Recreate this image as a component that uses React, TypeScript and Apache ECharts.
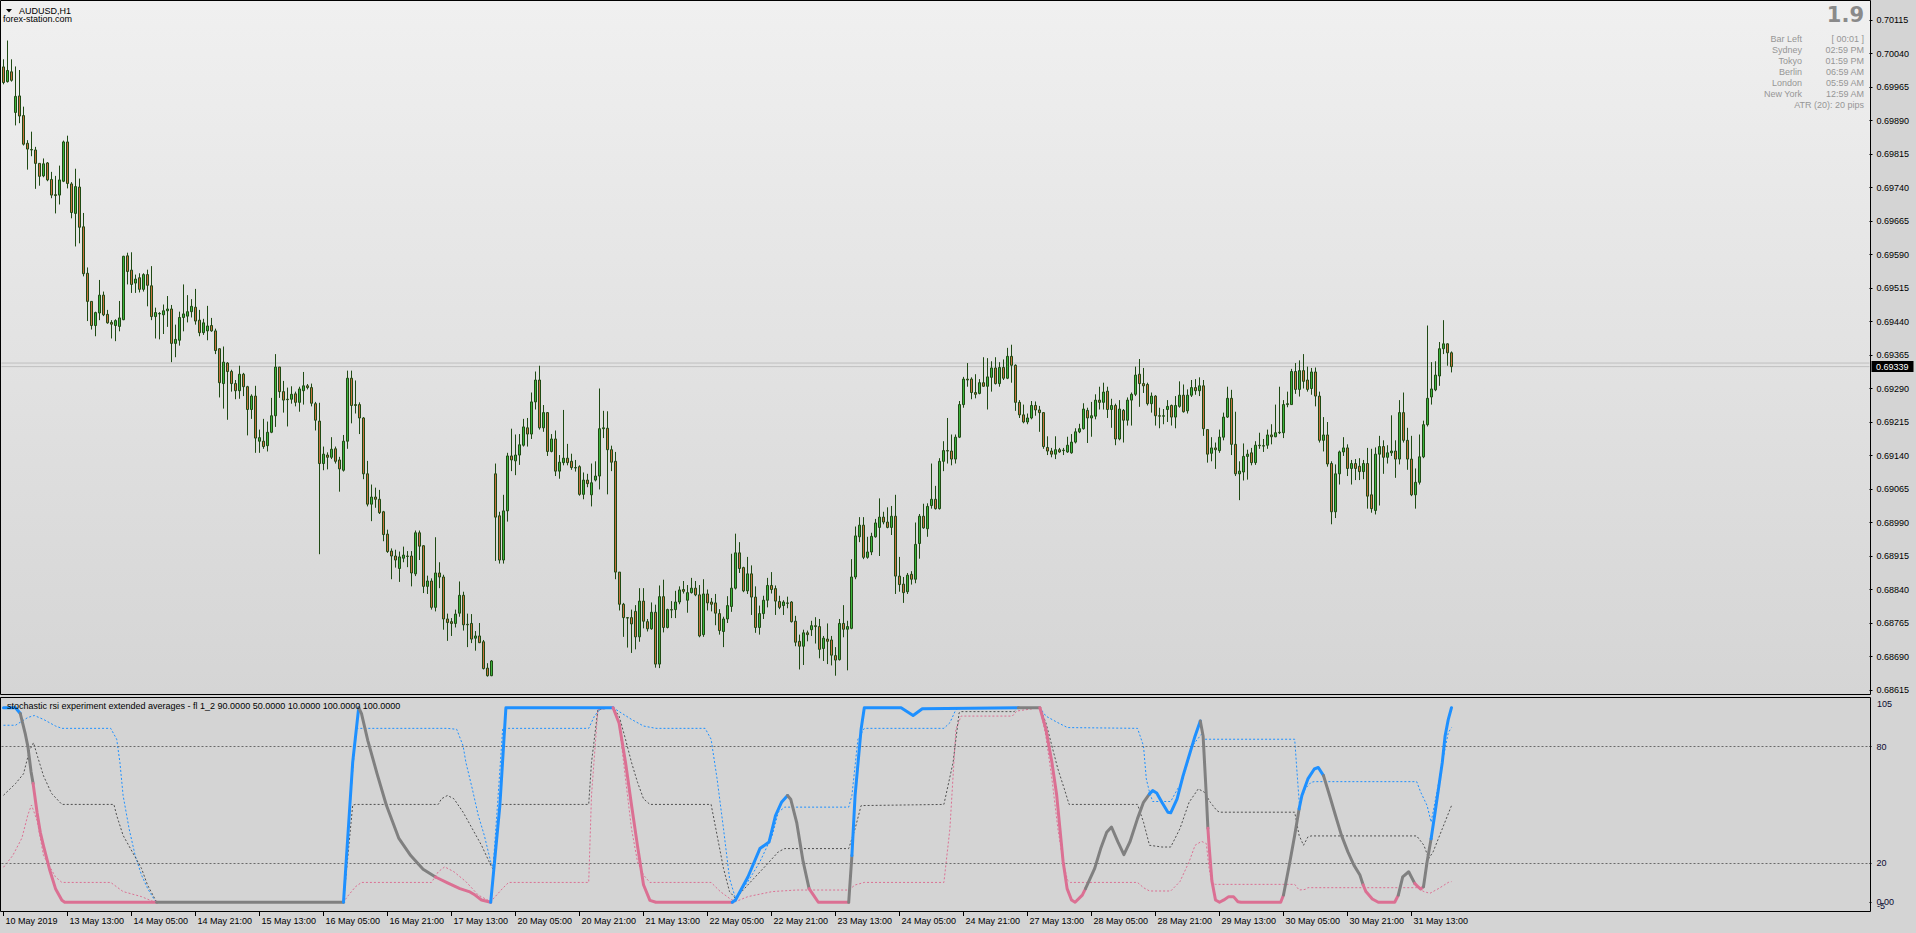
import React, { useEffect, useRef } from 'react';
import * as echarts from 'echarts';

// AUDUSD H1 prices, in points (1e-5)
const opens = [
70010,69977,69999,69908,69945,69901,69839,69825,69824,69794,
69766,69795,69758,69724,69723,69754,69842,69748,69682,69741,
69652,69548,69485,69431,69459,69499,69456,69438,69431,69429,
69444,69587,69555,69526,69538,69512,69545,69520,69451,69457,
69455,69464,69468,69391,69398,69449,69452,69462,69472,69443,
69415,69419,69431,69419,69379,69301,69347,69328,69301,69285,
69322,69294,69243,69273,69172,69172,69162,69192,69229,69338,
69283,69266,69266,69278,69259,69285,69296,69292,69256,69217,
69122,69141,69136,69155,69130,69107,69172,69313,69254,69254,
69224,69099,69031,69047,69042,69014,68964,68926,68915,68887,
68910,68915,68915,68875,68967,68938,68847,68859,68800,68877,
68868,68774,68768,68764,68787,68827,68762,68764,68731,68736,
68723,68664,68647,69099,69005,68906,69016,69139,69128,69141,
69163,69202,69188,69260,69309,69202,69236,69149,69177,69105,
69124,69134,69127,69113,69115,69053,69085,69052,69085,69094,
69200,69201,69153,69127,68879,68807,68777,68777,68791,68734,
68814,68768,68752,68789,68673,68824,68755,68795,68795,68812,
68840,68816,68833,68843,68828,68739,68830,68812,68810,68786,
68746,68774,68802,68843,68922,68889,68837,68875,68823,68755,
68786,68816,68849,68842,68813,68804,68810,68812,68769,68724,
68713,68743,68750,68759,68757,68708,68729,68727,68692,68683,
68764,68751,68753,68868,68958,68984,68912,68924,68958,68979,
69002,68991,68979,69004,68870,68852,68835,68874,68863,68943,
69004,68976,69028,69042,69021,69127,69151,69150,69132,69181,
69254,69311,69311,69281,69279,69303,69295,69315,69336,69301,
69337,69313,69362,69342,69259,69231,69215,69224,69252,69242,
69236,69158,69150,69143,69153,69152,69148,69146,69170,69193,
69200,69241,69224,69228,69264,69259,69284,69243,69252,69177,
69241,69219,69264,69277,69322,69301,69299,69256,69273,69229,
69228,69243,69252,69226,69250,69275,69240,69275,69292,69285,
69296,69198,69145,69157,69151,69181,69226,69268,69165,69099,
69103,69138,69146,69124,69163,69161,69163,69186,69182,69191,
69191,69254,69254,69328,69288,69330,69309,69290,69327,69273,
69174,69186,69122,69014,69099,69148,69157,69111,69122,69116,
69104,69122,69052,69017,69143,69160,69136,69146,69150,69132,
69236,69174,69132,69052,69080,69137,69209,69271,69287,69318,
69379,69390,69370];

const highs = [
70027,70069,70027,70011,70003,69921,69846,69865,69831,69794,
69805,69797,69775,69766,69789,69845,69856,69752,69782,69760,
69683,69561,69485,69462,69533,69507,69466,69443,69445,69486,
69587,69594,69595,69545,69548,69548,69556,69564,69471,69461,
69478,69497,69477,69433,69462,69523,69499,69490,69513,69466,
69446,69475,69448,69424,69380,69384,69349,69332,69309,69341,
69325,69296,69277,69296,69198,69222,69216,69269,69367,69338,
69307,69292,69295,69283,69294,69327,69300,69301,69260,69258,
69160,69147,69181,69160,69137,69186,69330,69330,69308,69259,
69226,69128,69075,69068,69063,69016,68974,68932,68929,68925,
68936,68926,68926,68972,68972,68939,68871,68865,68957,68901,
68873,68786,68776,68795,68858,68835,68786,68785,68747,68765,
68727,68675,68682,69122,69014,69052,69146,69200,69187,69188,
69222,69224,69281,69328,69341,69253,69237,69188,69196,69141,
69242,69166,69144,69130,69118,69102,69099,69122,69127,69290,
69240,69239,69162,69148,68879,68810,68778,68795,68805,68843,
68843,68774,68811,68806,68849,68862,68797,68814,68837,68847,
68859,68850,68866,68859,68850,68863,68840,68821,68830,68796,
68779,68825,68920,68965,68946,68891,68913,68894,68847,68804,
68826,68866,68879,68849,68826,68816,68824,68814,68781,68739,
68750,68748,68770,68778,68774,68736,68764,68736,68711,68774,
68805,68770,68908,68981,69002,69002,68958,68967,68998,69044,
69014,69024,69027,69052,68913,68868,68877,68881,68990,69009,
69032,69033,69122,69072,69134,69172,69224,69187,69187,69262,
69316,69347,69315,69322,69311,69360,69358,69351,69360,69349,
69355,69381,69388,69344,69264,69254,69234,69262,69261,69251,
69237,69183,69157,69183,69157,69157,69182,69188,69201,69211,
69257,69247,69260,69277,69294,69303,69294,69267,69256,69264,
69244,69270,69281,69339,69356,69336,69303,69281,69275,69247,
69244,69264,69254,69273,69306,69299,69288,69309,69311,69315,
69309,69198,69181,69169,69198,69236,69294,69287,69238,69127,
69167,69153,69157,69172,69191,69177,69198,69210,69254,69294,
69264,69283,69334,69347,69353,69367,69339,69336,69337,69283,
69226,69215,69127,69120,69151,69181,69165,69130,69132,69134,
69130,69157,69155,69158,69184,69174,69163,69230,69174,69264,
69281,69202,69184,69111,69187,69218,69431,69349,69351,69394,
69443,69391,69373];

const lows = [
69971,69975,69977,69879,69884,69834,69780,69810,69737,69744,
69763,69754,69716,69682,69702,69752,69738,69671,69608,69615,
69541,69441,69422,69407,69443,69452,69435,69402,69396,69418,
69443,69523,69504,69504,69505,69507,69474,69443,69402,69400,
69412,69428,69349,69360,69386,69418,69438,69449,69433,69407,
69410,69398,69417,69367,69270,69245,69220,69283,69266,69267,
69273,69185,69222,69146,69146,69155,69149,69190,69204,69269,
69236,69205,69256,69250,69238,69254,69288,69250,69196,68919,
69107,69109,69132,69122,69059,69104,69155,69212,69234,69188,
69087,69026,68993,69023,69009,68948,68922,68863,68889,68857,
68901,68890,68847,68870,68906,68832,68830,68795,68791,68843,
68750,68725,68736,68755,68779,68748,68711,68720,68703,68720,
68661,68645,68646,68904,68898,68898,68992,69105,69096,69119,
69160,69160,69177,69243,69198,69193,69139,69147,69094,69088,
69118,69118,69108,69104,69050,69042,69069,69026,69082,69064,
69179,69053,69105,68863,68793,68734,68710,68698,68706,68723,
68753,68746,68750,68665,68664,68744,68753,68776,68776,68807,
68831,68788,68831,68825,68733,68734,68793,68791,68760,68739,
68711,68765,68790,68840,68877,68834,68830,68783,68743,68739,
68774,68800,68831,68783,68796,68783,68798,68766,68713,68661,
68671,68724,68736,68719,68686,68680,68673,68670,68647,68681,
68733,68659,68751,68863,68946,68908,68909,68917,68956,68915,
68986,68977,68962,68830,68835,68810,68830,68851,68854,68909,
68976,68958,69021,69019,69019,69105,69122,69118,69122,69179,
69247,69294,69266,69268,69277,69294,69243,69283,69299,69294,
69309,69311,69303,69240,69224,69212,69210,69221,69229,69193,
69155,69141,69136,69132,69146,69141,69146,69144,69167,69190,
69198,69168,69182,69221,69243,69243,69224,69202,69163,69174,
69169,69207,69207,69273,69249,69280,69252,69236,69207,69201,
69210,69215,69207,69201,69247,69236,69234,69271,69276,69273,
69184,69124,69127,69110,69146,69174,69224,69141,69094,69040,
69084,69086,69118,69119,69155,69148,69155,69165,69181,69188,
69179,69248,69254,69278,69272,69290,69283,69276,69250,69169,
69149,69115,68986,69000,69075,69139,69094,69075,69085,69085,
69087,69021,69012,69008,69028,69099,69122,69139,69090,69120,
69169,69108,69049,69021,69075,69134,69205,69254,69284,69296,
69367,69341,69326];

const closes = [
69975,70002,69980,69944,69900,69837,69826,69824,69794,69765,
69793,69757,69723,69722,69757,69842,69749,69684,69742,69651,
69547,69485,69431,69460,69499,69455,69437,69434,69442,69448,
69586,69552,69523,69535,69512,69545,69521,69451,69460,69458,
69464,69468,69391,69400,69449,69457,69462,69474,69441,69415,
69437,69430,69419,69375,69303,69349,69328,69301,69285,69322,
69294,69243,69273,69179,69180,69160,69192,69229,69338,69283,
69264,69265,69277,69259,69289,69296,69292,69257,69219,69122,
69143,69136,69154,69127,69110,69172,69313,69252,69252,69224,
69099,69031,69047,69042,69012,68963,68925,68915,68906,68913,
68917,68914,68877,68967,68937,68847,68859,68800,68877,68868,
68774,68766,68764,68785,68827,68761,68761,68729,68736,68721,
68663,68647,68680,69002,68906,69016,69139,69130,69141,69164,
69204,69188,69260,69309,69202,69236,69149,69177,69105,69125,
69134,69124,69113,69112,69053,69085,69077,69079,69094,69200,
69202,69153,69125,68879,68807,68777,68776,68763,68734,68814,
68769,68752,68789,68673,68824,68755,68795,68794,68812,68839,
68836,68833,68843,68828,68736,68830,68810,68807,68787,68748,
68774,68804,68843,68922,68887,68837,68875,68823,68755,68786,
68816,68849,68840,68814,68800,68812,68809,68768,68722,68713,
68743,68739,68759,68757,68706,68731,68724,68693,68682,68764,
68751,68757,68868,68960,68984,68912,68924,68959,68989,69002,
68991,68979,69004,68870,68851,68833,68872,68863,68941,69004,
68978,69026,69042,69021,69127,69151,69150,69132,69181,69254,
69311,69309,69281,69277,69303,69295,69316,69336,69301,69337,
69313,69362,69342,69259,69231,69215,69224,69252,69242,69236,
69160,69150,69143,69153,69148,69151,69163,69170,69193,69200,
69244,69224,69229,69264,69259,69282,69243,69252,69177,69244,
69219,69264,69277,69320,69301,69296,69256,69273,69229,69228,
69229,69250,69226,69252,69275,69238,69275,69292,69285,69296,
69200,69143,69157,69153,69181,69226,69268,69165,69099,69105,
69138,69143,69124,69163,69162,69162,69186,69182,69191,69192,
69254,69256,69328,69288,69330,69306,69288,69327,69273,69174,
69186,69121,69014,69099,69148,69157,69111,69122,69111,69104,
69122,69049,69021,69143,69160,69136,69146,69150,69132,69236,
69174,69132,69052,69080,69137,69209,69268,69289,69320,69379,
69390,69370,69339];

// x-axis time labels, one every 16 bars from the first bar
const timeLabels = [
  '10 May 2019', '13 May 13:00', '14 May 05:00', '14 May 21:00', '15 May 13:00', '16 May 05:00',
  '16 May 21:00', '17 May 13:00', '20 May 05:00', '20 May 21:00', '21 May 13:00', '22 May 05:00',
  '22 May 21:00', '23 May 13:00', '24 May 05:00', '24 May 21:00', '27 May 13:00', '28 May 05:00',
  '28 May 21:00', '29 May 13:00', '30 May 05:00', '30 May 21:00', '31 May 13:00',
];
const LABEL_EVERY = 16;

const priceMin = 0.68615;
const priceMax = 0.70115;
const priceStep = 0.00075;
const bidPrice = 0.69339;
const askPrice = 0.69347;

const subMin = -5;
const subMax = 105;
const subTicks = [0, 20, 80];
const subLevels = [80, 20];

const symbolTitle = 'AUDUSD,H1';
const siteText = 'forex-station.com';
const indicatorTitle = 'stochastic rsi experiment extended averages - fl 1_2 90.0000 50.0000 10.0000 100.0000 100.0000';
const spreadText = '1.9';
const infoRows = [
  ['Bar Left', '[ 00:01 ]'],
  ['Sydney', '02:59 PM'],
  ['Tokyo', '01:59 PM'],
  ['Berlin', '06:59 AM'],
  ['London', '05:59 AM'],
  ['New York', '12:59 AM'],
];
const atrText = 'ATR (20): 20 pips';

// Indicator: floating levels (bar index, value)
const upperLevel = [
[0,91],[3,91],[6.1,95],[7.7,96],[10,94],[13,90.6],[14.6,89.4],[26.8,89.4],[28.3,83.8],[29.1,71.9],[29.9,54.9],[31.4,37.8],[32.9,24.2],[34.5,14],[36,7.2],[37.5,2],[38.3,0],[85,0],[87,60],[88.2,89.4],[111,89.4],[113.3,88.9],[114.9,80.4],[115.6,71.9],[117.2,58.3],[118.7,44.6],[120.2,34.4],[121.8,20.8],[122.4,18],[123.5,50],[124.8,89.4],[146.3,89.4],[147.8,96],[149.3,99.5],[152.4,100],[157,94],[160,90.6],[163.1,89.4],[175.4,89.4],[176.9,83.8],[178.4,63.4],[180,37.8],[181.5,12.3],[183,2],[186.1,10.6],[189.1,20.8],[192.2,34.4],[193.7,46.3],[195.3,48.9],[211.3,48.9],[212.1,54.9],[213.6,83.8],[215.2,89.4],[235.1,89.4],[236.6,92.3],[238.1,99.1],[239.4,100],[259.1,100],[260.6,95.7],[263.6,92.3],[266,89.8],[283.5,89.4],[285,80.4],[285.7,63.4],[286.5,56.6],[287.3,51.8],[291.8,51.8],[294.9,63.4],[297.2,80.4],[299.5,86.4],[300.2,83.8],[322.8,83.8],[323.5,63.4],[324,49.7],[325.4,58.3],[326.9,61.7],[327.7,62],[353.3,62],[354.3,56.6],[355.9,49.7],[356.9,41.2],[358.2,54.9],[359.7,71.9],[361.2,87.2],[362,89.8]];

const middleLevel = [
[0,55],[3,61],[5,66],[6.5,78],[7.5,82],[8.5,75],[10,65],[12,56],[14.6,50.3],[27.6,50.3],[28.3,44.6],[29.9,34.4],[32.2,25.9],[34.5,17.4],[36,8.9],[38.3,0],[85,0],[87.3,50],[88,50.3],[108.7,50.3],[109.5,53.2],[111,54.9],[112.6,53.2],[114.9,46.3],[117.2,37.8],[119.5,29.3],[121.8,19.1],[122.4,17],[124.1,49.7],[124.5,50.3],[146.3,50.3],[147,71.9],[148.6,99.1],[152.4,100],[153.9,95.7],[155.5,83.8],[157,71.9],[158.5,61.7],[160,53.2],[161.6,50.3],[176.9,50.3],[178.4,34.4],[180,17.4],[181.5,5.5],[183,2],[187.6,12.3],[190.7,19.1],[193.7,25.9],[195.3,27.6],[211.3,27.6],[212.9,37.8],[214.4,49.7],[235.1,50.3],[237.4,71.9],[238.9,97.4],[239.3,98],[252.7,98],[253.3,99.7],[259.1,100],[260.6,92.3],[262.1,80.4],[263.6,68.5],[265.2,58.3],[266.4,50.3],[283.5,50.3],[285,41.2],[286.5,29.3],[289.6,28.4],[291.8,28.4],[294.1,37.8],[296.4,51.4],[298.7,58.3],[300.2,56.6],[301.7,51.4],[303.3,47.2],[304,46.3],[322.8,46.3],[323.9,34.4],[325,29.3],[326.1,33.6],[326.9,34.1],[353.3,34.1],[355.1,29.3],[356.3,22.5],[357.4,25.9],[359.7,37.8],[362,49.7]];

const lowerLevel = [
[0,18],[2.3,24],[4.6,33],[6.1,45],[7,50],[8.4,42],[10,24],[13,13],[14.6,10.2],[26.8,10.2],[29.9,5.5],[34.5,2.9],[37.5,0.3],[38.3,0],[85,0],[86,3],[88,8],[89.5,10.2],[107,10.2],[108.7,15.7],[110.3,18.2],[112.6,15.7],[115.6,10.6],[118.7,3.7],[121.8,0.3],[124.8,7.2],[126.3,10.2],[146.3,10.2],[147,54.9],[148.6,99.1],[152.4,100],[153.9,92.3],[155.5,63.4],[157,37.8],[158.5,20.8],[160,14],[161.6,10.2],[176.9,10.2],[179.2,5.5],[181.5,2],[183,0.3],[186.1,2.9],[192.2,5.5],[198.3,6.3],[211.3,6.3],[212.9,8.9],[215.2,10.2],[235.1,10.2],[236.6,37.8],[238.1,88.9],[239.4,95.7],[252.2,95.7],[253.3,98.3],[259.1,100],[260.6,85.5],[262.1,63.4],[263.6,37.8],[264.9,20.8],[266,11.4],[266.7,10.2],[283.5,10.2],[285,7.5],[286.5,5.8],[291.8,5.8],[294.1,10.6],[296.4,20.8],[297.9,29.3],[299.5,31.3],[300.7,30.2],[301.4,17.4],[302.1,9.7],[303,9.2],[322.8,9.2],[323.9,6.3],[325.4,6.6],[326.1,7.5],[353.3,7.5],[355.1,5.5],[356.6,4.6],[358.9,7.2],[361.2,10.2],[362,10.6]];

// Main stochastic RSI line, split into runs by state (up = above upper level, down = below lower level)
const stochRuns = [
  { state: 'up', pts: [[0,100],[3,100],[4.2,97]] },
  { state: 'mid', pts: [[4.2,97],[5.4,87],[6.1,80],[6.9,67],[7.4,61]] },
  { state: 'down', pts: [[7.4,61],[8.4,46],[9.2,36],[10,29],[11.5,17],[13,7],[14.6,1],[15.3,0],[38.3,0]] },
  { state: 'mid', pts: [[38.3,0],[85,0]] },
  { state: 'up', pts: [[85,0],[87.3,72],[88.8,100]] },
  { state: 'mid', pts: [[88.8,100],[89.5,97],[91.1,83],[93.4,66],[95.7,50],[98.8,33],[101.8,24],[104.9,17],[108,13]] },
  { state: 'down', pts: [[108,13],[111,10],[114.1,7],[116.4,5.5],[117.9,3.7],[119.5,1.2],[121.8,0]] },
  { state: 'up', pts: [[121.8,0],[124.1,50],[125.6,100],[152.4,100]] },
  { state: 'down', pts: [[152.4,100],[153.9,92],[155.5,72],[157,50],[158.5,29],[160,9],[161.6,1],[163.1,0],[182.2,0]] },
  { state: 'up', pts: [[182.2,0],[183,1.2],[186.1,13],[189.1,27.6],[191.4,31],[193,44.6],[194.5,51.4],[196,54.9]] },
  { state: 'mid', pts: [[196,54.9],[196.8,53],[198.3,41],[199.9,21],[201.4,7]] },
  { state: 'down', pts: [[201.4,7],[202.5,3.7],[203.7,0],[211.3,0]] },
  { state: 'mid', pts: [[211.3,0],[212.1,24]] },
  { state: 'up', pts: [[212.1,24],[212.9,55],[214.4,89],[215.2,100],[224.4,100],[227.4,96],[229.7,99.5],[253.7,100]] },
  { state: 'mid', pts: [[253.7,100],[259.1,100]] },
  { state: 'down', pts: [[259.1,100],[260.6,89],[262.1,72],[263.3,55],[264.1,38],[264.9,21],[265.9,7],[267,1.2],[267.9,0],[269.7,3.7],[270.5,7]] },
  { state: 'mid', pts: [[270.5,7],[271.3,10.6],[272.8,17.4],[274.3,27.6],[275.8,36],[277,38.7],[278.6,31],[280.1,24.5],[281.6,31],[283.5,43],[285,51.4],[286.5,55.7]] },
  { state: 'up', pts: [[286.5,55.7],[287.3,57.4],[288.3,56.2],[289.6,51.4],[291.1,46.3],[291.8,46],[293.4,53.2],[294.9,65.1],[296.4,75.3],[297.9,85.5],[299.2,93.2]] },
  { state: 'mid', pts: [[299.2,93.2],[299.9,85.5],[300.7,55],[301.1,38]] },
  { state: 'down', pts: [[301.1,38],[301.4,29],[302.1,11],[303,1.2],[304,0],[305.1,1.2],[306.3,2.9],[307.5,2.9],[308.6,0.3],[309.4,0],[319.3,0],[320,3.7]] },
  { state: 'mid', pts: [[320,3.7],[321.6,20.8],[322.8,34.4],[323.9,48]] },
  { state: 'up', pts: [[323.9,48],[324.6,54.9],[326.1,63.4],[327.7,68.5],[328.7,69.3],[330,65.1]] },
  { state: 'mid', pts: [[330,65.1],[331.5,55],[333,44.6],[334.5,34.4],[336.1,25.9],[337.6,19.1],[339.1,14],[339.9,9]] },
  { state: 'down', pts: [[339.9,9],[340.6,5.5],[342.2,1.7],[343.7,0],[347.8,0],[348.7,3.7]] },
  { state: 'mid', pts: [[348.7,3.7],[349.8,13.1],[351.3,15.7],[352.8,9.7]] },
  { state: 'down', pts: [[352.8,9.7],[353.6,8],[354.3,6.8],[355,8]] },
  { state: 'mid', pts: [[355,8],[355.9,20.8],[356.9,32.7]] },
  { state: 'up', pts: [[356.9,32.7],[357.9,46.3],[359.7,71.9],[360.4,85.5],[361.2,94],[362,100]] },
];

// ---- layout / style ----
const W = 1916;
const H = 933;
const SLOTS = 467;
const SLOT_W = 4;
const GRID_LEFT = 1.5;
const FONT = '"Liberation Sans", Arial, sans-serif';
const BULL = '#3cb43c';
const BEAR = '#c8703c';
const OUTLINE = '#1f4a14';
const BLUE = '#1e90ff';
const PINK = '#db7093';
const GRAY = '#808080';
const stateColor: Record<string, string> = { up: BLUE, mid: GRAY, down: PINK };

function txt(x: number, y: number, text: string, opts: any = {}) {
  const align = opts.align || 'left';
  return {
    type: 'text',
    x,
    y,
    z: opts.z || 100,
    silent: true,
    style: {
      text,
      fill: opts.fill || '#000',
      font: opts.font || `9px ${FONT}`,
      align,
      verticalAlign: 'middle',
      textAlign: align,
      textVerticalAlign: 'middle',
    },
  };
}

export default function App() {
  const ref = useRef<HTMLDivElement>(null);

  useEffect(() => {
    document.body.style.margin = '0';
    const chart = echarts.init(ref.current as HTMLDivElement, null, { renderer: 'svg' });
    const slots = Array.from({ length: SLOTS }, (_, i) => String(i));
    const candleData = opens.map((o, i) => [o / 1e5, closes[i] / 1e5, lows[i] / 1e5, highs[i] / 1e5]);
    const lastLabelIdx = (timeLabels.length - 1) * LABEL_EVERY;
    const showTick = (idx: number) => idx % LABEL_EVERY === 0 && idx <= lastLabelIdx;

    const levelSeries = (data: number[][], color: string) => ({
      type: 'line',
      xAxisIndex: 1,
      yAxisIndex: 1,
      data,
      symbol: 'none',
      showSymbol: false,
      silent: true,
      z: 3,
      lineStyle: { color, width: 1, type: [2, 2] },
    });

    const priceLine = (price: number) => ({
      type: 'line',
      xAxisIndex: 3,
      yAxisIndex: 0,
      data: [[-0.5, price], [SLOTS - 0.5, price]],
      symbol: 'none',
      showSymbol: false,
      silent: true,
      z: 4,
      lineStyle: { color: '#c0c0c0', width: 1, type: 'solid' },
    });

    const graphics: any[] = [
      {
        type: 'rect',
        z: -10,
        silent: true,
        shape: { x: 1, y: 1, width: 1870, height: 693 },
        style: {
          fill: new echarts.graphic.LinearGradient(0, 0, 0, 1, [
            { offset: 0, color: '#f0f0f0' },
            { offset: 1, color: '#d5d5d5' },
          ]),
        },
      },
      {
        type: 'rect',
        z: 99,
        silent: true,
        shape: { x: 0.5, y: 0.5, width: 1870, height: 694 },
        style: { fill: 'none', stroke: '#000', lineWidth: 1 },
      },
      {
        type: 'rect',
        z: 99,
        silent: true,
        shape: { x: 0.5, y: 697.5, width: 1870, height: 214 },
        style: { fill: 'none', stroke: '#000', lineWidth: 1 },
      },
      {
        type: 'polygon',
        z: 100,
        silent: true,
        shape: { points: [[6, 9], [12, 9], [9, 12.5]] },
        style: { fill: '#000' },
      },
      txt(19, 10.5, symbolTitle),
      txt(3, 18.5, siteText),
      txt(7, 706, indicatorTitle),
      txt(1864, 15, spreadText, { align: 'right', fill: '#8a8a8a', font: `bold 21px "DejaVu Sans", ${FONT}` }),
      ...infoRows.flatMap((row, i) => [
        txt(1802, 39 + i * 10.9, row[0], { align: 'right', fill: '#969696' }),
        txt(1864, 39 + i * 10.9, row[1], { align: 'right', fill: '#969696' }),
      ]),
      txt(1864, 105, atrText, { align: 'right', fill: '#969696' }),
      txt(1877, 704, String(subMax), { fill: '#0a0a30' }),
      txt(1877, 906, String(subMin), { fill: '#0a0a30' }),
    ];

    const option: any = {
      animation: false,
      backgroundColor: '#d4d4d4',
      grid: [
        { left: GRID_LEFT, top: 20, width: SLOTS * SLOT_W, height: 670 },
        { left: GRID_LEFT, top: 698, width: SLOTS * SLOT_W, height: 214 },
      ],
      xAxis: [
        { type: 'category', gridIndex: 0, data: slots, boundaryGap: true, show: false, axisLine: { onZero: false } },
        { type: 'value', gridIndex: 1, min: -0.5, max: SLOTS - 0.5, show: false, axisLine: { onZero: false } },
        {
          type: 'category',
          gridIndex: 1,
          data: slots,
          boundaryGap: true,
          position: 'bottom',
          axisLine: { show: false, onZero: false },
          axisTick: {
            show: true,
            alignWithLabel: true,
            interval: (idx: number) => showTick(idx),
            length: 4,
            lineStyle: { color: '#000', width: 1 },
          },
          axisLabel: {
            interval: (idx: number) => showTick(idx),
            formatter: (_v: string, idx: number) => (showTick(idx) ? timeLabels[idx / LABEL_EVERY] : ''),
            align: 'left',
            margin: 4,
            padding: [0, 0, 0, 2],
            fontSize: 9,
            fontFamily: FONT,
            color: '#000',
          },
          splitLine: { show: false },
        },
        { type: 'value', gridIndex: 0, min: -0.5, max: SLOTS - 0.5, show: false, axisLine: { onZero: false } },
      ],
      yAxis: [
        {
          type: 'value',
          gridIndex: 0,
          position: 'right',
          min: priceMin,
          max: priceMax,
          interval: priceStep,
          axisLine: { show: false, onZero: false },
          axisTick: { show: true, length: 3, lineStyle: { color: '#000' } },
          axisLabel: {
            formatter: (v: number) => v.toFixed(5),
            margin: 7,
            fontSize: 9,
            fontFamily: FONT,
            color: '#000',
          },
          splitLine: { show: false },
        },
        {
          type: 'value',
          gridIndex: 1,
          position: 'right',
          min: subMin,
          max: subMax,
          axisLine: { show: false, onZero: false },
          axisTick: { show: true, length: 2, customValues: subTicks, lineStyle: { color: '#000' } },
          axisLabel: {
            customValues: subTicks,
            formatter: (v: number) => (v === 0 ? '0.00' : String(v)),
            margin: 7,
            fontSize: 9,
            fontFamily: FONT,
            color: '#0a0a30',
          },
          splitLine: { show: false },
        },
      ],
      series: [
        priceLine(askPrice),
        priceLine(bidPrice),
        {
          type: 'candlestick',
          xAxisIndex: 0,
          yAxisIndex: 0,
          data: candleData,
          barWidth: 2,
          z: 5,
          itemStyle: {
            color: BULL,
            color0: BEAR,
            borderColor: OUTLINE,
            borderColor0: OUTLINE,
            borderWidth: 1,
          },
        },
        {
          ...levelSeries(upperLevel, BLUE),
        },
        {
          ...levelSeries(middleLevel, '#505050'),
          markLine: {
            symbol: 'none',
            silent: true,
            animation: false,
            label: { show: false },
            lineStyle: { color: '#6a6a6a', type: [2, 2], width: 1 },
            data: subLevels.map((v) => ({ yAxis: v })),
          },
        },
        {
          ...levelSeries(lowerLevel, PINK),
        },
        ...stochRuns.map((r) => ({
          type: 'line',
          xAxisIndex: 1,
          yAxisIndex: 1,
          data: r.pts,
          symbol: 'none',
          showSymbol: false,
          silent: true,
          z: 6,
          lineStyle: { color: stateColor[r.state], width: 3, cap: 'round', join: 'round' },
        })),
      ],
      graphic: graphics,
    };

    chart.setOption(option);

    // current price tag on the price axis, positioned through the axis scale
    const bidY = chart.convertToPixel({ yAxisIndex: 0 }, bidPrice) as number;
    chart.setOption({
      graphic: [
        ...graphics,
        {
          type: 'rect',
          z: 101,
          silent: true,
          shape: { x: 1871.5, y: bidY - 5.5, width: 42, height: 11 },
          style: { fill: '#000' },
        },
        txt(1876, bidY, bidPrice.toFixed(5), { fill: '#fff', z: 102 }),
      ],
    });

    return () => chart.dispose();
  }, []);

  return <div ref={ref} style={{ width: W, height: H }} />;
}
